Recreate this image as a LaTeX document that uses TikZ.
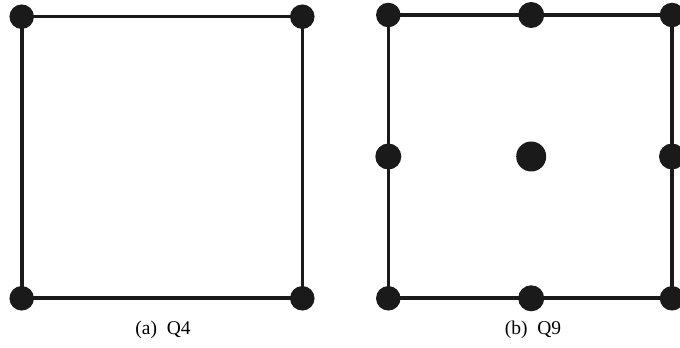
\documentclass[tikz,border=0pt]{standalone}
\usepackage{fontspec}
\setmainfont{Liberation Serif}
\definecolor{ink}{HTML}{1A1A1A}
\begin{document}
\begin{tikzpicture}[x=1pt,y=1pt,
  edge/.style={draw=ink,line width=3.6pt},
  cornerdot/.style={circle,fill=ink,minimum size=24.5pt,inner sep=0pt},
  sidedot/.style={circle,fill=ink,minimum size=26pt,inner sep=0pt},
  centerdot/.style={circle,fill=ink,minimum size=30pt,inner sep=0pt},
  caption/.style={anchor=base,font=\fontsize{19.5}{22}\selectfont,inner sep=0pt}]
\useasboundingbox (0,0) rectangle (680,348);
% (a) Q4
\coordinate (a1) at (21.7,331.3);
\coordinate (a2) at (302.3,331.3);
\coordinate (a3) at (302.3,49.7);
\coordinate (a4) at (21.7,49.7);
\draw[edge] (a1) -- (a2) -- (a3) -- (a4) -- cycle;
\foreach \p in {a1,a2,a3,a4} \node[cornerdot] at (\p) {};
\node[caption] (capa) at (163,13) {(a)\hspace{0.5em}Q4};
% (b) Q9
\coordinate (b1) at (388.3,333);
\coordinate (b2) at (531.2,333);
\coordinate (b3) at (672,333);
\coordinate (b4) at (672,191.5);
\coordinate (b5) at (672,49.7);
\coordinate (b6) at (531.2,49.7);
\coordinate (b7) at (388.3,49.7);
\coordinate (b8) at (388.3,191.5);
\coordinate (b9) at (531.2,191.5);
\draw[edge] (b1) -- (b3) -- (b5) -- (b7) -- cycle;
\foreach \p in {b1,b3,b5,b7} \node[cornerdot] at (\p) {};
\foreach \p in {b2,b4,b6,b8} \node[sidedot] at (\p) {};
\node[centerdot] at (b9) {};
\node[caption] (capb) at (533,13) {(b)\hspace{0.5em}Q9};
\end{tikzpicture}
\end{document}
